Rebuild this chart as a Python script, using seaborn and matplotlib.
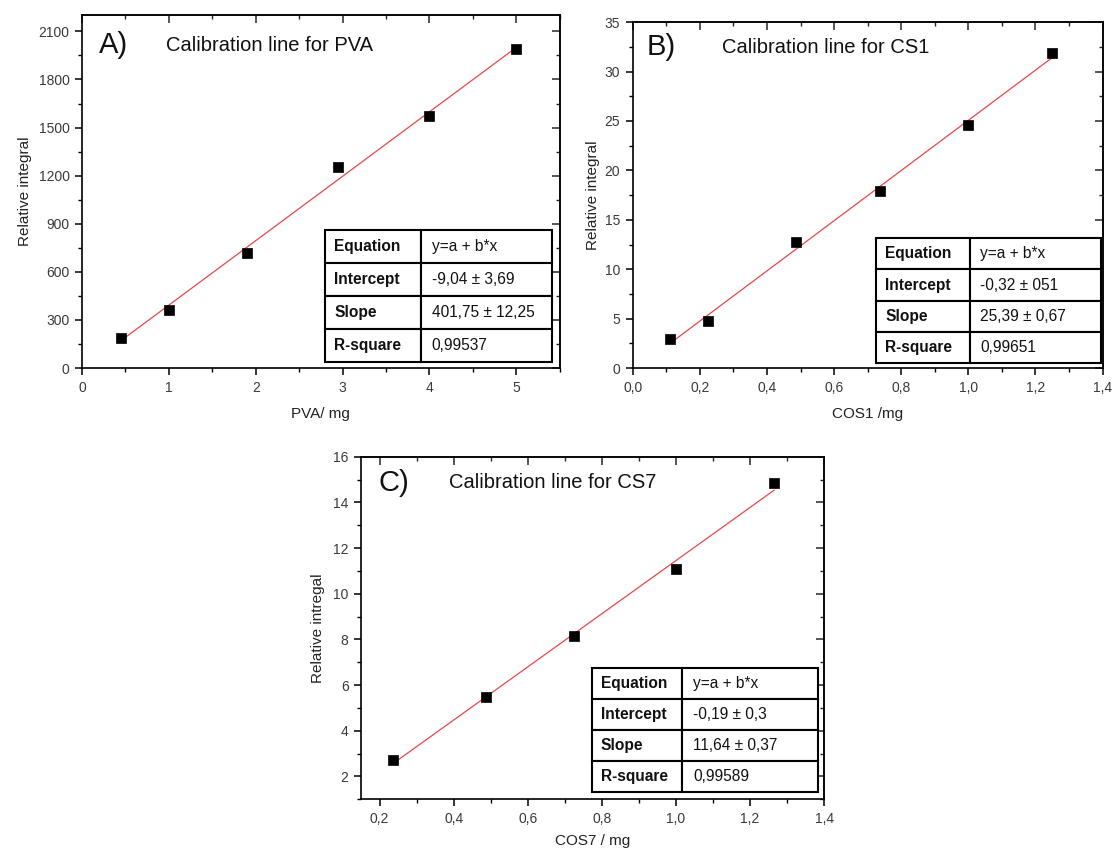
import numpy as np
import pandas as pd
import matplotlib
matplotlib.use("Agg")
import matplotlib.pyplot as plt
import seaborn as sns
from matplotlib.ticker import MultipleLocator, FuncFormatter

# ---------------- data ----------------
pva_mass = [0.45, 1.0, 1.9, 2.95, 4.0, 5.0]
pva_integral = [190, 365, 720, 1255, 1575, 1990]

cs1_mass = [0.11, 0.225, 0.487, 0.737, 1.0, 1.25]
cs1_integral = [2.9, 4.75, 12.75, 17.9, 24.6, 31.9]

cs7_mass = [0.237, 0.487, 0.725, 1.0, 1.265]
cs7_integral = [2.72, 5.47, 8.15, 11.1, 14.85]

fit_intercept = [-9.04, -0.32, -0.19]
fit_slope = [401.75, 25.39, 11.64]

row_labels = ["Equation", "Intercept", "Slope", "R-square"]
pva_table = ["y=a + b*x", "-9,04 \u00b1 3,69", "401,75 \u00b1 12,25", "0,99537"]
cs1_table = ["y=a + b*x", "-0,32 \u00b1 051", "25,39 \u00b1 0,67", "0,99651"]
cs7_table = ["y=a + b*x", "-0,19 \u00b1 0,3", "11,64 \u00b1 0,37", "0,99589"]

panel_letters = ["A)", "B)", "C)"]
panel_titles = ["Calibration line for PVA", "Calibration line for CS1", "Calibration line for CS7"]
x_labels = ["PVA/ mg", "COS1 /mg", "COS7 / mg"]
y_labels = ["Relative integral", "Relative integral", "Relative intregal"]

# ---------------- style ----------------
sns.set_theme(style="ticks")
plt.rcParams["font.family"] = ["Liberation Sans", "DejaVu Sans"]

fig = plt.figure(figsize=(11.16, 8.52), dpi=100)
axA = fig.add_axes([0.0735, 0.568, 0.428, 0.414])
axB = fig.add_axes([0.567, 0.568, 0.421, 0.406])
axC = fig.add_axes([0.3235, 0.062, 0.415, 0.402])

def comma_fmt(dec):
    def f(v, pos):
        s = f"{v:.{dec}f}"
        return s.replace(".", ",")
    return FuncFormatter(f)

configs = [
    dict(ax=axA, x=pva_mass, y=pva_integral, a=fit_intercept[0], b=fit_slope[0],
         xlim=(0, 5.5), ylim=(0, 2200), xmaj=1, xmin=0.5, ymaj=300, ymin=150, xdec=0,
         table=pva_table, tbbox=[0.508, 0.017, 0.475, 0.374], colfrac=0.425,
         letter_pos=(0.035, 0.915), title_pos=(0.176, 0.915), xpad=9, ypad=5),
    dict(ax=axB, x=cs1_mass, y=cs1_integral, a=fit_intercept[1], b=fit_slope[1],
         xlim=(0, 1.4), ylim=(0, 35), xmaj=0.2, xmin=0.1, ymaj=5, ymin=2.5, xdec=1,
         table=cs1_table, tbbox=[0.518, 0.0145, 0.479, 0.361], colfrac=0.415,
         letter_pos=(0.030, 0.928), title_pos=(0.189, 0.928), xpad=9, ypad=3),
    dict(ax=axC, x=cs7_mass, y=cs7_integral, a=fit_intercept[2], b=fit_slope[2],
         xlim=(0.15, 1.4), ylim=(1, 16), xmaj=0.2, xmin=0.1, ymaj=2, ymin=1, xdec=1,
         table=cs7_table, tbbox=[0.498, 0.0195, 0.489, 0.364], colfrac=0.40,
         letter_pos=(0.038, 0.924), title_pos=(0.19, 0.924), xpad=6, ypad=6),
]

tick_color = "#3a3a3a"
for i, c in enumerate(configs):
    ax = c["ax"]
    xs = np.array(c["x"], dtype=float)
    fit_x = np.linspace(xs.min(), xs.max(), 50)
    fit_df = pd.DataFrame({"x": fit_x, "y": c["a"] + c["b"] * fit_x})
    pts_df = pd.DataFrame({"x": c["x"], "y": c["y"]})

    sns.lineplot(data=fit_df, x="x", y="y", ax=ax, color="#e8474a", lw=0.9, zorder=2)
    sns.scatterplot(data=pts_df, x="x", y="y", ax=ax, marker="s", s=45,
                    color="black", edgecolor="black", linewidth=0.5, zorder=3)

    ax.set_xlim(*c["xlim"])
    ax.set_ylim(*c["ylim"])
    ax.xaxis.set_major_locator(MultipleLocator(c["xmaj"]))
    ax.xaxis.set_minor_locator(MultipleLocator(c["xmin"]))
    ax.yaxis.set_major_locator(MultipleLocator(c["ymaj"]))
    ax.yaxis.set_minor_locator(MultipleLocator(c["ymin"]))
    ax.xaxis.set_major_formatter(comma_fmt(c["xdec"]))
    ax.yaxis.set_major_formatter(comma_fmt(0))

    for s in ax.spines.values():
        s.set_visible(True)
        s.set_linewidth(1.2)
        s.set_color("black")
    ax.tick_params(which="major", direction="out", length=5, width=1.1,
                   labelsize=10, labelcolor=tick_color, color="black", pad=4)
    ax.tick_params(which="minor", direction="out", length=3, width=1.0, color="black")

    # mirrored ticks on top and right, pointing inwards
    secx = ax.secondary_xaxis("top")
    secx.xaxis.set_major_locator(MultipleLocator(c["xmaj"]))
    secx.xaxis.set_minor_locator(MultipleLocator(c["xmin"]))
    secx.tick_params(which="major", direction="in", length=6, width=1.1, labeltop=False)
    secx.tick_params(which="minor", direction="in", length=3, width=1.0)
    secy = ax.secondary_yaxis("right")
    secy.yaxis.set_major_locator(MultipleLocator(c["ymaj"]))
    secy.yaxis.set_minor_locator(MultipleLocator(c["ymin"]))
    secy.tick_params(which="major", direction="in", length=6, width=1.1, labelright=False)
    secy.tick_params(which="minor", direction="in", length=3, width=1.0)
    for sa in (secx, secy):
        for s in sa.spines.values():
            s.set_linewidth(1.2)

    ax.set_xlabel(x_labels[i], fontsize=11, labelpad=c["xpad"], color="#222222")
    ax.set_ylabel(y_labels[i], fontsize=11, labelpad=c["ypad"], color="#222222")

    ax.text(*c["letter_pos"], panel_letters[i], transform=ax.transAxes,
            fontsize=21, va="center", ha="left", color="#111111")
    ax.text(*c["title_pos"], panel_titles[i], transform=ax.transAxes,
            fontsize=14.5, va="center", ha="left", color="#111111")

    cell_text = [[row_labels[r], c["table"][r]] for r in range(4)]
    tb = ax.table(cellText=cell_text, cellLoc="left", bbox=c["tbbox"],
                  colWidths=[c["colfrac"], 1 - c["colfrac"]], zorder=5)
    tb.auto_set_font_size(False)
    tb.set_fontsize(11.2)
    for (r, col), cell in tb.get_celld().items():
        cell.set_linewidth(1.5)
        cell.set_edgecolor("black")
        cell.set_facecolor("white")
        cell.PAD = 0.1 if col == 0 else 0.08
        cell.get_text().set_color("#111111")
        if col == 0:
            cell.get_text().set_fontweight("bold")

fig.savefig("out.png", dpi=100)
